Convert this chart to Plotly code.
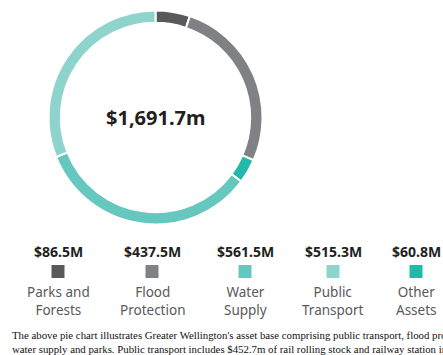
import plotly.graph_objects as go

# Asset base by group ($M), clockwise from 12 o'clock
categories = ["Parks and Forests", "Flood Protection", "Other Assets", "Water Supply", "Public Transport"]
values = [86.5, 437.5, 60.8, 561.5, 515.3]
colors = ["#58595b", "#808184", "#23b8aa", "#66c7bf", "#8fd4cc"]
total_label = "$1,691.7m"

# Legend order along the bottom row
legend_order = ["Parks and Forests", "Flood Protection", "Water Supply", "Public Transport", "Other Assets"]
legend_lines = ["Parks and<br>Forests", "Flood<br>Protection", "Water<br>Supply", "Public<br>Transport", "Other<br>Assets"]
legend_x = [58, 152, 245, 333, 416]

caption = ("The above pie chart illustrates Greater Wellington's asset base comprising public transport, flood protection,<br>"
           "water supply and parks. Public transport includes $452.7m of rail rolling stock and railway station infrastructure.")

W, H = 443, 355
SANS = "Noto Sans"

fig = go.Figure()

fig.add_trace(go.Pie(
    labels=categories,
    values=values,
    marker=dict(colors=colors, line=dict(color="white", width=2)),
    hole=0.885,
    sort=False,
    direction="clockwise",
    rotation=0,
    textinfo="none",
    hoverinfo="label+value",
    showlegend=False,
    domain=dict(x=[48.5 / W, 262.5 / W], y=[1 - 224.5 / H, 1 - 10.5 / H]),
))

color_of = dict(zip(categories, colors))
value_of = dict(zip(categories, values))

# Legend swatches
fig.add_trace(go.Scatter(
    x=legend_x,
    y=[271.5] * len(legend_x),
    mode="markers",
    marker=dict(symbol="square", size=13, color=[color_of[c] for c in legend_order], line=dict(width=0)),
    hoverinfo="skip",
    showlegend=False,
))

annotations = [
    dict(x=155.5, y=117.5, xref="x", yref="y", text=f"<b>{total_label}</b>", showarrow=False,
         font=dict(family=SANS, size=20, color="#231f20"), xanchor="center", yanchor="middle"),
]
for cx, cat, lines in zip(legend_x, legend_order, legend_lines):
    annotations.append(dict(x=cx, y=251.5, xref="x", yref="y", text=f"<b>${value_of[cat]:.1f}M</b>",
                            showarrow=False, font=dict(family=SANS, size=14, color="#231f20"),
                            xanchor="center", yanchor="middle"))
    annotations.append(dict(x=cx, y=300.5, xref="x", yref="y", text=lines, showarrow=False,
                            font=dict(family=SANS, size=13.5, color="#58595b"),
                            xanchor="center", yanchor="middle", align="center"))

# Footnote runs past the right edge of the page
annotations.append(dict(x=10, y=342, xref="x", yref="y", text=caption, showarrow=False,
                        font=dict(family="Liberation Serif", size=10.8, color="#111111"),
                        xanchor="left", yanchor="middle", align="left"))

fig.update_layout(
    width=W, height=H,
    margin=dict(l=0, r=0, t=0, b=0),
    paper_bgcolor="white", plot_bgcolor="white",
    xaxis=dict(range=[0, W], visible=False, fixedrange=True),
    yaxis=dict(range=[H, 0], visible=False, fixedrange=True),
    annotations=annotations,
)

fig.write_html("out.html")
